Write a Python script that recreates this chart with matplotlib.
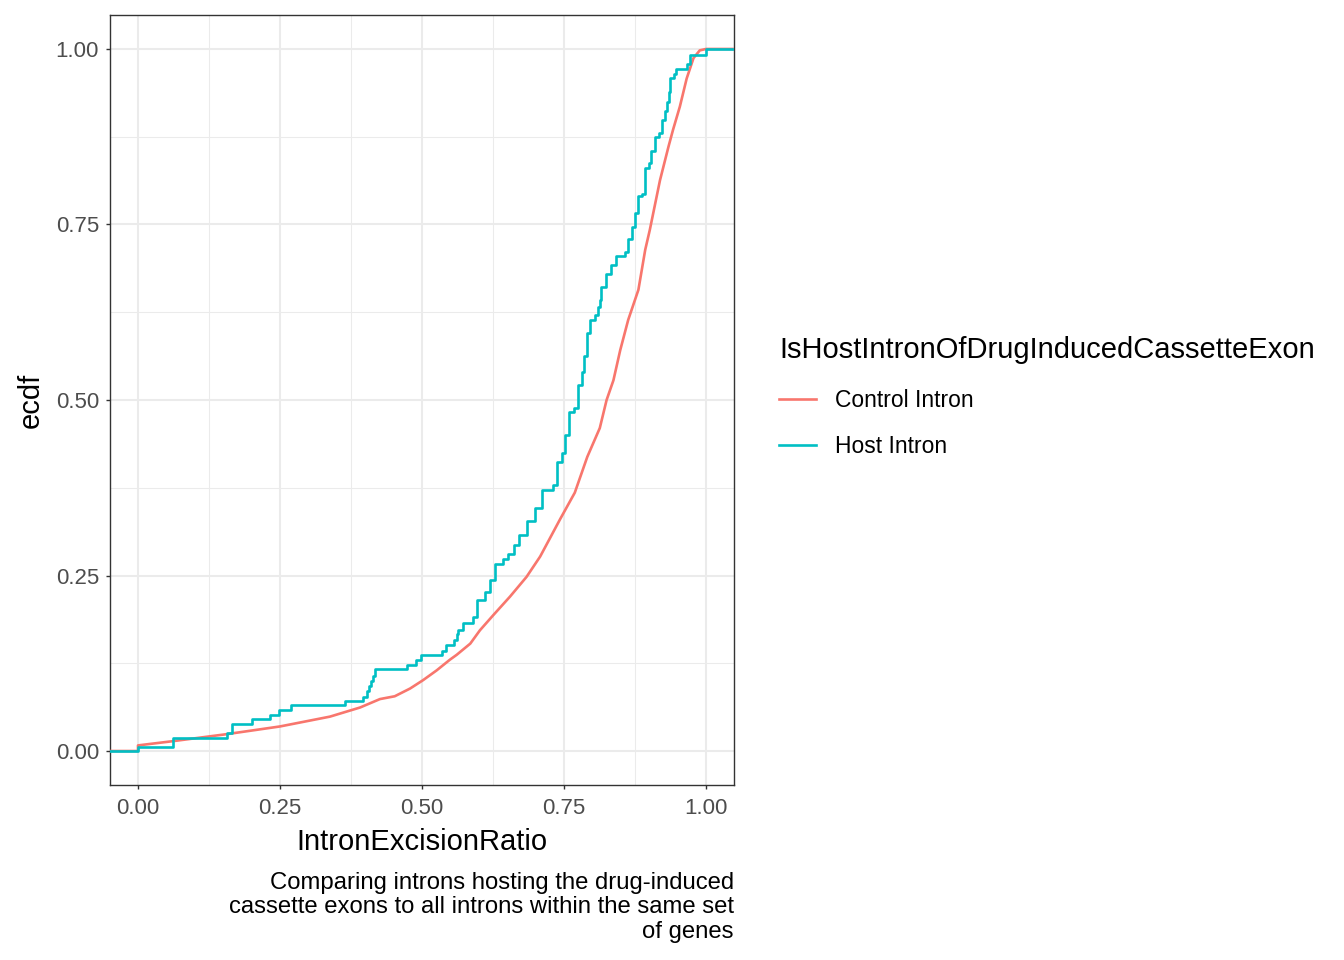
import matplotlib
matplotlib.use('Agg')
import matplotlib.pyplot as plt
import numpy as np

plt.rcParams['font.family'] = ['Liberation Sans', 'DejaVu Sans']

# ECDF
# Host Intron: step break points (x where the step happens, ecdf after the step)
host_x = [0.000, 0.061, 0.156, 0.166, 0.200, 0.232, 0.248, 0.270, 0.364, 0.397,
          0.403, 0.407, 0.411, 0.414, 0.418, 0.474, 0.489, 0.499, 0.535, 0.542,
          0.556, 0.561, 0.564, 0.572, 0.589, 0.596, 0.611, 0.620, 0.629, 0.643,
          0.652, 0.662, 0.671, 0.685, 0.699, 0.711, 0.731, 0.738, 0.746, 0.752,
          0.759, 0.768, 0.775, 0.781, 0.785, 0.790, 0.796, 0.805, 0.810, 0.814,
          0.816, 0.824, 0.832, 0.842, 0.857, 0.863, 0.869, 0.875, 0.880, 0.887,
          0.893, 0.900, 0.904, 0.910, 0.918, 0.922, 0.928, 0.931, 0.934, 0.937,
          0.943, 0.948, 0.967, 0.971, 1.000]
host_y = [0.006, 0.019, 0.026, 0.039, 0.046, 0.052, 0.058, 0.065, 0.071, 0.077,
          0.085, 0.092, 0.100, 0.107, 0.117, 0.123, 0.130, 0.137, 0.143, 0.151,
          0.158, 0.167, 0.172, 0.182, 0.191, 0.215, 0.227, 0.244, 0.267, 0.273,
          0.281, 0.293, 0.308, 0.327, 0.346, 0.372, 0.379, 0.412, 0.424, 0.450,
          0.483, 0.488, 0.521, 0.540, 0.562, 0.595, 0.614, 0.621, 0.633, 0.642,
          0.661, 0.680, 0.692, 0.705, 0.711, 0.730, 0.747, 0.766, 0.790, 0.794,
          0.830, 0.837, 0.854, 0.875, 0.880, 0.899, 0.911, 0.925, 0.939, 0.958,
          0.965, 0.972, 0.979, 0.991, 1.000]

# Control Intron: many samples, curve looks smooth
ctrl_x = [0.000, 0.061, 0.156, 0.250, 0.338, 0.391, 0.426, 0.452, 0.479, 0.502,
          0.526, 0.549, 0.561, 0.585, 0.602, 0.626, 0.655, 0.684, 0.708, 0.743,
          0.769, 0.791, 0.813, 0.825, 0.837, 0.849, 0.863, 0.881, 0.893, 0.901,
          0.919, 0.934, 0.942, 0.954, 0.966, 0.978, 0.989, 1.000]
ctrl_y = [0.008, 0.014, 0.024, 0.035, 0.049, 0.062, 0.074, 0.078, 0.089, 0.101,
          0.115, 0.130, 0.137, 0.153, 0.172, 0.194, 0.220, 0.248, 0.277, 0.330,
          0.368, 0.419, 0.460, 0.500, 0.528, 0.571, 0.614, 0.657, 0.714, 0.742,
          0.813, 0.861, 0.885, 0.918, 0.958, 0.987, 0.998, 1.000]

groups = ['Control Intron', 'Host Intron']
colors = ['#F8766D', '#00BFC4']
ticks = [0.0, 0.25, 0.5, 0.75, 1.0]
tick_labels = ['0.00', '0.25', '0.50', '0.75', '1.00']


def main():
    fig = plt.figure(figsize=(13.44, 9.6), dpi=100)
    ax = fig.add_axes([110 / 1344, 1 - 785 / 960, 624 / 1344, 770 / 960])

    lo, hi = -0.0493, 1.0493
    # control: flat at 0 before first value, then the curve, flat at 1 after
    cx = [lo] + [ctrl_x[0]] + ctrl_x + [hi]
    cy = [0.0] + [0.0] + ctrl_y + [1.0]
    ax.plot(cx, cy, color=colors[0], lw=1.9, label=groups[0], zorder=3)

    hx = [lo] + host_x + [hi]
    hy = [0.0] + host_y + [1.0]
    ax.step(hx, hy, where='post', color=colors[1], lw=1.9, label=groups[1], zorder=4)

    ax.set_xlim(lo, hi)
    ax.set_ylim(-0.0484, 1.0484)
    ax.set_xticks(ticks)
    ax.set_xticklabels(tick_labels)
    ax.set_yticks(ticks)
    ax.set_yticklabels(tick_labels)
    ax.set_xticks([0.125, 0.375, 0.625, 0.875], minor=True)
    ax.set_yticks([0.125, 0.375, 0.625, 0.875], minor=True)
    ax.tick_params(which='minor', length=0)
    ax.tick_params(which='major', length=3, width=1, color='#333333',
                   labelcolor='#4D4D4D', labelsize=16)
    ax.tick_params(axis='x', pad=6)
    ax.tick_params(axis='y', pad=5)
    ax.grid(True, which='major', color='#EBEBEB', lw=1.5, zorder=0)
    ax.grid(True, which='minor', color='#EBEBEB', lw=0.75, zorder=0)
    ax.set_axisbelow(True)
    for sp in ax.spines.values():
        sp.set_color('#333333')
        sp.set_linewidth(1.0)

    ax.set_xlabel('IntronExcisionRatio', fontsize=21, labelpad=7)
    ax.set_ylabel('ecdf', fontsize=21, labelpad=8)

    fig.text(734 / 1344, 1 - 872 / 960,
             'Comparing introns hosting the drug-induced\n'
             'cassette exons to all introns within the same set\n'
             'of genes',
             ha='right', va='top', fontsize=17.2, linespacing=1.14)

    leg = ax.legend(loc='upper left', bbox_to_anchor=(779 / 1344, 1 - 336 / 960),
                    bbox_transform=fig.transFigure, frameon=False,
                    title='IsHostIntronOfDrugInducedCassetteExon',
                    title_fontsize=21, fontsize=16.5, handlelength=1.6,
                    handletextpad=0.85, labelspacing=1.0, borderaxespad=0,
                    borderpad=0)
    leg._legend_box.align = 'left'
    leg._legend_box.sep = 18

    fig.savefig('out.png', dpi=100)


if __name__ == '__main__':
    main()
